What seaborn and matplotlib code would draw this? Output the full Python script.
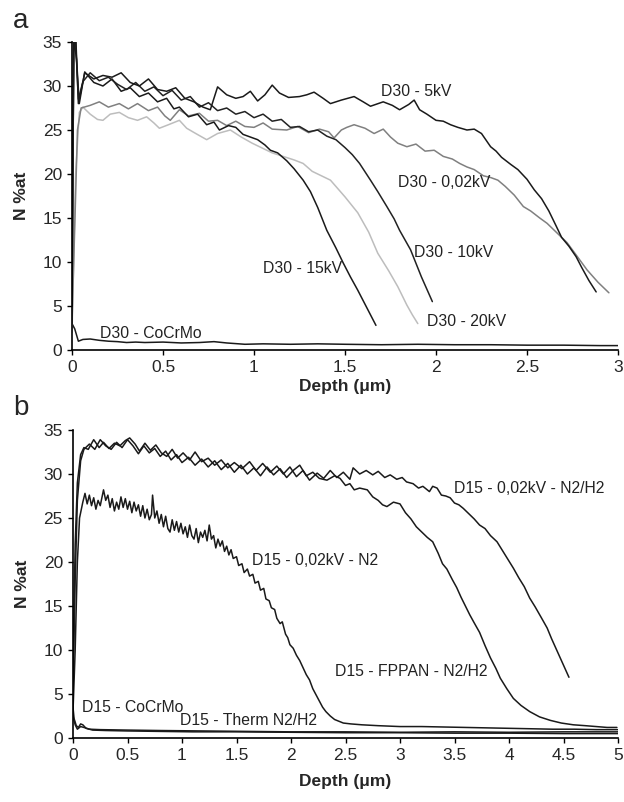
import numpy as np
import pandas as pd
import matplotlib
matplotlib.use('Agg')
import matplotlib.pyplot as plt
import seaborn as sns

# --- data: (depth um, N %at) ---
# panel a
d30_5kv = [(0.00, 5), (0.01, 36), (0.02, 36), (0.035, 28), (0.07, 31.5), (0.12, 30.8), (0.17, 31.2),
           (0.22, 31.0), (0.27, 31.5), (0.32, 30.4), (0.37, 30.0), (0.42, 30.8), (0.47, 29.6), (0.52, 29.4),
           (0.57, 29.8), (0.62, 28.6), (0.67, 28.2), (0.72, 27.6), (0.76, 27.3), (0.80, 29.9), (0.85, 29.0),
           (0.90, 28.6), (0.94, 28.8), (0.98, 29.4), (1.02, 28.3), (1.06, 29.0), (1.10, 30.1), (1.14, 29.2),
           (1.19, 28.7), (1.25, 28.8), (1.29, 29.0), (1.33, 29.3), (1.38, 28.6), (1.42, 28.0), (1.48, 28.4),
           (1.55, 28.8), (1.60, 28.2), (1.64, 27.7), (1.71, 28.2), (1.76, 27.8), (1.80, 27.3), (1.85, 27.9),
           (1.88, 28.4), (1.91, 27.3), (1.95, 26.8), (2.00, 26.1), (2.04, 26.0), (2.08, 25.6), (2.12, 25.3),
           (2.17, 25.0), (2.21, 25.1), (2.25, 24.6), (2.30, 23.1), (2.33, 22.6), (2.36, 21.9), (2.41, 21.1),
           (2.45, 20.5), (2.50, 19.4), (2.54, 18.2), (2.58, 17.2), (2.62, 15.8), (2.66, 14.1), (2.69, 12.8),
           (2.73, 11.8), (2.77, 10.6), (2.80, 9.4), (2.84, 7.9), (2.88, 6.6)]
d30_002kv = [(0.00, 3), (0.03, 25), (0.05, 27.5), (0.10, 27.8), (0.15, 28.2), (0.20, 27.6), (0.26, 28.0),
             (0.31, 27.4), (0.36, 28.0), (0.42, 27.2), (0.47, 27.6), (0.51, 26.6), (0.54, 26.1), (0.59, 27.3),
             (0.64, 26.6), (0.70, 26.9), (0.75, 26.0), (0.80, 26.1), (0.85, 25.5), (0.90, 26.0), (0.95, 25.4),
             (1.00, 25.3), (1.05, 25.8), (1.10, 25.1), (1.18, 25.0), (1.24, 25.4), (1.30, 24.7), (1.36, 25.1),
             (1.41, 24.8), (1.44, 24.1), (1.48, 25.0), (1.51, 25.3), (1.55, 25.6), (1.61, 25.2), (1.66, 24.6),
             (1.71, 25.1), (1.75, 24.2), (1.79, 23.5), (1.84, 23.1), (1.89, 23.4), (1.94, 22.6), (1.99, 22.7),
             (2.04, 22.0), (2.09, 21.7), (2.13, 21.2), (2.17, 20.8), (2.21, 20.5), (2.26, 19.8), (2.30, 19.6),
             (2.34, 19.3), (2.38, 18.6), (2.43, 17.6), (2.48, 16.3), (2.52, 15.8), (2.57, 15.0), (2.61, 14.4),
             (2.66, 13.4), (2.72, 12.2), (2.77, 10.8), (2.83, 9.1), (2.89, 7.7), (2.95, 6.5)]
d30_10kv = [(0.00, 5), (0.01, 36), (0.02, 35), (0.035, 28.5), (0.06, 30.5), (0.10, 31.5), (0.15, 30.6),
            (0.20, 31.0), (0.25, 30.2), (0.30, 29.6), (0.35, 30.4), (0.40, 29.4), (0.45, 29.9), (0.50, 28.9),
            (0.55, 29.5), (0.60, 28.4), (0.65, 28.8), (0.70, 27.6), (0.75, 28.1), (0.80, 27.2), (0.85, 27.5),
            (0.90, 26.8), (0.95, 27.1), (1.00, 26.4), (1.05, 26.8), (1.10, 26.0), (1.15, 26.2), (1.20, 25.3),
            (1.25, 25.4), (1.30, 24.8), (1.35, 25.0), (1.40, 24.3), (1.45, 23.9), (1.50, 23.0), (1.54, 22.2),
            (1.58, 21.2), (1.64, 19.3), (1.68, 18.0), (1.73, 16.3), (1.77, 14.9), (1.80, 13.6), (1.86, 11.4),
            (1.92, 8.3), (1.95, 6.9), (1.98, 5.5)]
d30_15kv = [(0.00, 5), (0.01, 35.5), (0.025, 33), (0.04, 28), (0.07, 31.6), (0.12, 30.4), (0.17, 30.0),
            (0.22, 30.8), (0.27, 29.4), (0.32, 29.8), (0.37, 28.8), (0.42, 29.2), (0.47, 28.2), (0.52, 28.6),
            (0.56, 27.4), (0.59, 27.6), (0.64, 26.5), (0.69, 26.8), (0.74, 25.6), (0.78, 25.9), (0.81, 25.0),
            (0.86, 25.5), (0.90, 25.3), (0.94, 24.5), (0.98, 24.2), (1.02, 23.9), (1.06, 23.3), (1.09, 22.7),
            (1.13, 22.4), (1.18, 21.5), (1.22, 20.6), (1.27, 19.3), (1.31, 18.0), (1.35, 16.2), (1.40, 13.6),
            (1.45, 11.6), (1.49, 9.9), (1.53, 8.3), (1.57, 6.8), (1.62, 4.8), (1.67, 2.8)]
d30_20kv = [(0.00, 2), (0.02, 20), (0.04, 27.0), (0.06, 27.6), (0.10, 26.8), (0.14, 26.2), (0.17, 26.1),
            (0.21, 26.8), (0.26, 27.0), (0.31, 26.4), (0.36, 26.1), (0.41, 26.5), (0.45, 25.8), (0.48, 25.2),
            (0.53, 25.6), (0.59, 26.1), (0.63, 25.2), (0.68, 24.6), (0.74, 23.9), (0.80, 24.6), (0.87, 25.0),
            (0.93, 24.2), (0.99, 23.5), (1.04, 23.0), (1.10, 22.4), (1.16, 22.0), (1.22, 21.6), (1.27, 21.2),
            (1.32, 20.3), (1.42, 19.3), (1.50, 17.4), (1.57, 15.6), (1.63, 13.4), (1.68, 11.0), (1.74, 9.0),
            (1.79, 7.2), (1.84, 5.1), (1.87, 4.0), (1.90, 3.0)]
d30_cocrmo = [(0.00, 3.0), (0.015, 2.4), (0.035, 1.0), (0.06, 1.2), (0.10, 1.25), (0.15, 1.1), (0.20, 1.0),
              (0.25, 0.95), (0.30, 0.85), (0.35, 0.9), (0.40, 0.85), (0.50, 0.9), (0.60, 0.8), (0.70, 0.85),
              (0.78, 0.95), (0.85, 0.8), (0.95, 0.65), (1.05, 0.7), (1.20, 0.65), (1.35, 0.7), (1.50, 0.65),
              (1.70, 0.6), (1.90, 0.65), (2.10, 0.6), (2.30, 0.6), (2.50, 0.55), (2.70, 0.55), (2.90, 0.5),
              (3.00, 0.5)]

# panel b
d15_n2h2 = [(0.00, 8), (0.02, 22), (0.04, 29), (0.07, 32.2), (0.10, 33.0), (0.14, 32.8), (0.19, 33.9),
            (0.24, 33.0), (0.28, 33.6), (0.33, 32.9), (0.38, 33.5), (0.43, 33.2), (0.48, 33.8), (0.52, 34.1),
            (0.57, 33.4), (0.61, 32.6), (0.66, 33.5), (0.71, 32.7), (0.76, 33.3), (0.81, 32.4), (0.86, 32.0),
            (0.91, 32.8), (0.96, 31.8), (1.01, 32.4), (1.07, 31.6), (1.12, 32.5), (1.18, 31.4), (1.24, 31.8),
            (1.30, 31.0), (1.36, 31.6), (1.42, 30.7), (1.48, 31.3), (1.55, 30.6), (1.62, 31.4), (1.68, 30.4),
            (1.74, 31.2), (1.81, 30.2), (1.87, 30.9), (1.93, 30.0), (1.99, 30.8), (2.05, 29.7), (2.11, 30.4),
            (2.17, 29.3), (2.24, 30.1), (2.30, 29.5), (2.36, 30.4), (2.42, 29.6), (2.48, 30.2), (2.54, 29.4),
            (2.57, 30.7), (2.63, 30.0), (2.69, 30.4), (2.75, 29.9), (2.80, 30.3), (2.86, 29.6), (2.91, 29.9),
            (2.97, 29.4), (3.02, 29.6), (3.06, 29.1), (3.12, 28.9), (3.17, 28.4), (3.21, 28.6), (3.27, 28.0),
            (3.30, 28.6), (3.34, 28.4), (3.38, 27.6), (3.42, 27.5), (3.46, 27.3), (3.50, 26.7), (3.54, 26.5),
            (3.58, 26.1), (3.63, 25.5), (3.68, 24.9), (3.73, 24.2), (3.78, 23.8), (3.83, 23.0), (3.89, 22.3),
            (3.94, 21.3), (3.99, 20.3), (4.04, 19.3), (4.09, 18.2), (4.14, 17.2), (4.19, 15.9), (4.24, 14.9),
            (4.30, 13.6), (4.35, 12.5), (4.39, 11.3), (4.43, 10.2), (4.47, 9.1), (4.51, 8.0), (4.55, 6.9)]
d15_fppan = [(0.00, 5), (0.02, 18), (0.04, 27), (0.07, 31.5), (0.10, 32.8), (0.15, 33.4), (0.20, 32.8),
             (0.25, 33.9), (0.30, 33.2), (0.35, 32.8), (0.40, 33.6), (0.45, 33.0), (0.50, 33.9), (0.55, 33.2),
             (0.60, 32.3), (0.65, 33.2), (0.70, 32.4), (0.75, 32.9), (0.80, 32.0), (0.85, 32.6), (0.90, 31.6),
             (0.95, 32.2), (1.00, 31.3), (1.06, 31.9), (1.12, 31.0), (1.18, 31.7), (1.24, 30.8), (1.30, 31.5),
             (1.36, 30.5), (1.42, 31.2), (1.48, 30.2), (1.54, 31.0), (1.60, 30.0), (1.66, 30.7), (1.72, 29.8),
             (1.78, 30.8), (1.84, 29.9), (1.90, 30.6), (1.96, 29.6), (2.02, 30.4), (2.08, 31.0), (2.14, 29.8),
             (2.20, 30.2), (2.26, 29.5), (2.33, 29.3), (2.40, 29.8), (2.45, 29.5), (2.50, 28.7), (2.54, 28.9),
             (2.58, 28.2), (2.63, 28.4), (2.70, 28.2), (2.75, 27.4), (2.80, 27.0), (2.84, 26.5), (2.88, 26.3),
             (2.94, 26.8), (3.00, 26.6), (3.05, 25.6), (3.10, 24.9), (3.15, 24.0), (3.20, 23.4), (3.25, 22.8),
             (3.30, 22.3), (3.35, 21.0), (3.39, 19.8), (3.43, 19.2), (3.48, 18.0), (3.52, 17.1), (3.56, 16.0),
             (3.60, 15.0), (3.64, 14.0), (3.68, 13.1), (3.73, 12.0), (3.78, 10.5), (3.83, 9.1), (3.88, 7.9),
             (3.92, 6.8), (3.98, 5.6), (4.04, 4.5), (4.11, 3.7), (4.19, 3.0), (4.28, 2.4), (4.38, 2.0),
             (4.48, 1.7), (4.59, 1.5), (4.70, 1.4), (4.80, 1.3), (4.90, 1.2), (4.99, 1.2)]
d15_n2 = [(0.00, 3), (0.02, 10), (0.04, 20), (0.06, 25), (0.09, 26.8), (0.11, 27.8), (0.13, 26.6), (0.15, 27.6),
          (0.17, 26.4), (0.19, 27.3), (0.21, 26.0), (0.23, 27.0), (0.25, 26.4), (0.28, 28.2), (0.30, 27.0),
          (0.32, 27.6), (0.34, 26.2), (0.36, 27.2), (0.38, 25.8), (0.40, 26.8), (0.42, 26.0), (0.44, 27.4),
          (0.46, 26.2), (0.48, 27.2), (0.50, 26.0), (0.52, 26.9), (0.54, 25.6), (0.56, 26.8), (0.58, 25.8),
          (0.60, 26.5), (0.62, 25.2), (0.64, 26.4), (0.66, 25.0), (0.68, 26.0), (0.70, 24.8), (0.72, 25.4),
          (0.73, 27.6), (0.75, 25.0), (0.77, 25.8), (0.79, 24.4), (0.81, 25.4), (0.83, 24.0), (0.85, 25.2),
          (0.87, 23.8), (0.89, 23.4), (0.91, 24.8), (0.93, 23.6), (0.95, 24.6), (0.97, 23.4), (0.99, 24.4),
          (1.01, 23.2), (1.03, 24.0), (1.05, 22.8), (1.07, 24.2), (1.09, 23.0), (1.11, 22.6), (1.13, 23.8),
          (1.15, 22.2), (1.17, 23.4), (1.19, 22.8), (1.21, 23.6), (1.23, 22.4), (1.25, 24.2), (1.27, 22.6),
          (1.29, 23.0), (1.31, 21.6), (1.33, 22.6), (1.35, 21.8), (1.37, 22.4), (1.39, 21.2), (1.41, 21.8),
          (1.43, 20.8), (1.45, 21.4), (1.47, 20.4), (1.50, 20.6), (1.52, 19.6), (1.55, 19.8), (1.57, 18.8),
          (1.60, 19.2), (1.62, 18.4), (1.65, 18.6), (1.67, 17.6), (1.70, 17.8), (1.72, 16.8), (1.75, 17.0),
          (1.77, 15.8), (1.80, 15.6), (1.82, 14.8), (1.85, 14.6), (1.87, 13.6), (1.90, 13.0), (1.92, 13.2),
          (1.95, 11.8), (1.97, 11.4), (1.99, 10.6), (2.02, 10.2), (2.05, 9.4), (2.08, 8.8), (2.11, 8.0),
          (2.14, 7.2), (2.17, 6.6), (2.20, 5.6), (2.23, 4.9), (2.26, 4.2), (2.29, 3.5), (2.32, 3.0),
          (2.36, 2.5), (2.40, 2.1), (2.44, 1.9), (2.48, 1.7), (2.55, 1.6), (2.65, 1.5), (2.80, 1.4),
          (3.00, 1.3), (3.20, 1.3), (3.40, 1.25), (3.60, 1.2), (3.80, 1.15), (4.00, 1.1), (4.20, 1.05),
          (4.40, 1.0), (4.60, 1.0), (4.80, 0.95), (5.00, 0.95)]
d15_cocrmo = [(0.00, 3.5), (0.01, 2.2), (0.03, 1.4), (0.05, 1.2), (0.07, 1.6), (0.09, 1.5), (0.12, 1.1),
              (0.18, 0.9), (0.30, 0.85), (0.50, 0.8), (0.80, 0.75), (1.10, 0.7), (1.50, 0.7), (2.00, 0.65),
              (2.50, 0.6), (3.00, 0.6), (3.50, 0.55), (4.00, 0.55), (4.50, 0.5), (5.00, 0.5)]
d15_therm = [(0.00, 2.5), (0.02, 1.5), (0.04, 1.0), (0.07, 1.3), (0.10, 1.2), (0.15, 1.0), (0.25, 0.95),
             (0.50, 0.9), (0.80, 0.85), (1.20, 0.8), (1.60, 0.75), (2.00, 0.7), (2.50, 0.7), (3.00, 0.65),
             (3.50, 0.7), (4.00, 0.65), (4.50, 0.7), (5.00, 0.7)]

# curve labels: (text, x, y)
labels_a = [("D30 - 5kV", 1.70, 29.4), ("D30 - 0,02kV", 1.79, 19.0), ("D30 - 10kV", 1.88, 11.1),
            ("D30 - 15kV", 1.05, 9.3), ("D30 - 20kV", 1.95, 3.2), ("D30 - CoCrMo", 0.155, 1.9)]
labels_b = [("D15 - 0,02kV - N2/H2", 3.50, 28.3), ("D15 - 0,02kV - N2", 1.64, 20.2),
            ("D15 - FPPAN - N2/H2", 2.40, 7.6), ("D15 - CoCrMo", 0.08, 3.5),
            ("D15 - Therm N2/H2", 0.98, 2.0)]

sns.set_theme(style="ticks")
plt.rcParams['font.family'] = ['Liberation Sans', 'DejaVu Sans']


def draw(ax, pts, color):
    df = pd.DataFrame(pts, columns=['depth', 'n'])
    sns.lineplot(data=df, x='depth', y='n', ax=ax, color=color, lw=1.1,
                 sort=False, estimator=None)


def style(ax, xmax, label_y):
    ax.set_xlim(0, xmax)
    ax.set_ylim(0, 35)
    xt = np.arange(0, xmax + 0.01, 0.5)
    ax.set_xticks(xt)
    ax.set_xticklabels([f'{t:g}' for t in xt])
    ax.set_yticks(np.arange(0, 36, 5))
    ax.tick_params(length=3.6, width=1, pad=3.6, labelsize=12.5, color='black')
    sns.despine(ax=ax)
    for s in ['left', 'bottom']:
        ax.spines[s].set_linewidth(1.2)
        ax.spines[s].set_color('black')
    ax.set_xlabel('Depth (μm)', fontsize=12.5, fontweight='bold')
    ax.set_ylabel('N %at', fontsize=12.5, fontweight='bold')
    ax.xaxis.set_label_coords(0.5, label_y)
    ax.yaxis.set_label_coords(-0.079, 0.5)


fig = plt.figure(figsize=(6.24, 8.02), dpi=100)
ax_a = fig.add_axes([72 / 624, 1 - 350 / 802, 546 / 624, 308 / 802])
ax_b = fig.add_axes([73 / 624, 1 - 738 / 802, 545 / 624, 308 / 802])

# --- panel a ---
draw(ax_a, d30_cocrmo, '#1a1a1a')
draw(ax_a, d30_20kv, '#bdbdbd')
draw(ax_a, d30_002kv, '#808080')
draw(ax_a, d30_15kv, '#1a1a1a')
draw(ax_a, d30_10kv, '#222222')
draw(ax_a, d30_5kv, '#1a1a1a')
for txt, x, y in labels_a:
    ax_a.text(x, y, txt, fontsize=11.3, ha='left', va='center', color='#222222')
style(ax_a, 3, -0.094)

# --- panel b ---
draw(ax_b, d15_cocrmo, '#1a1a1a')
draw(ax_b, d15_therm, '#1a1a1a')
draw(ax_b, d15_n2, '#1a1a1a')
draw(ax_b, d15_fppan, '#1a1a1a')
draw(ax_b, d15_n2h2, '#1a1a1a')
for txt, x, y in labels_b:
    ax_b.text(x, y, txt, fontsize=11.3, ha='left', va='center', color='#222222')
style(ax_b, 5, -0.117)

fig.text(13 / 624, 1 - 28 / 802, 'a', fontsize=20, va='baseline', ha='left')
fig.text(13 / 624, 1 - 415 / 802, 'b', fontsize=20, va='baseline', ha='left')

fig.savefig('out.png', dpi=100)
